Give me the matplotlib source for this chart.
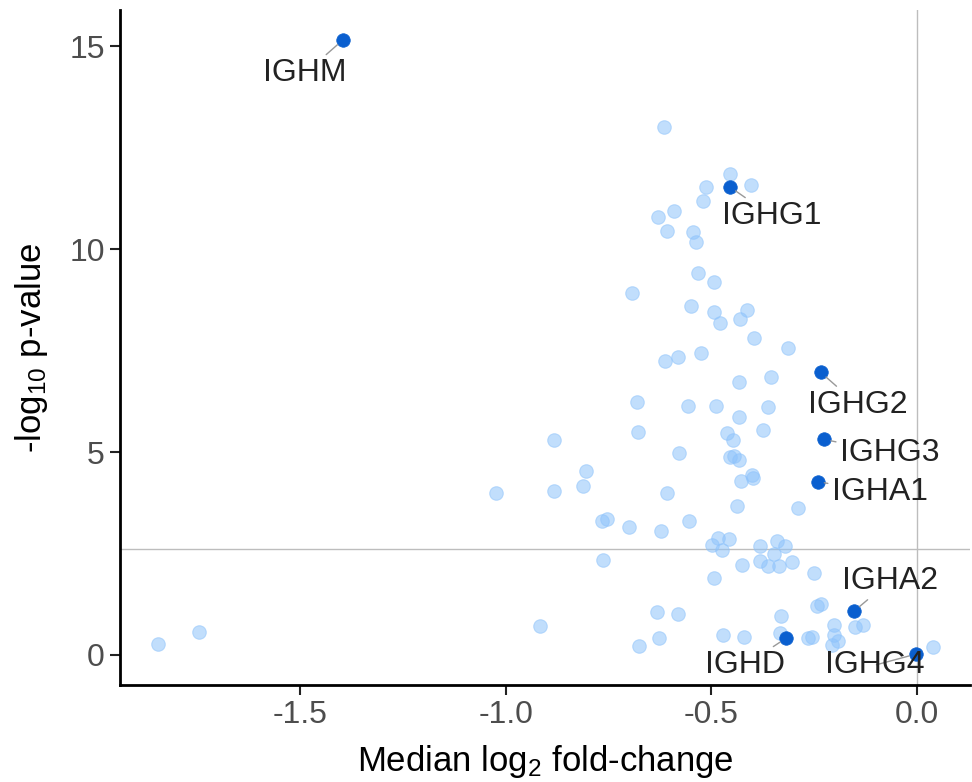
import matplotlib
matplotlib.use("Agg")
import matplotlib.pyplot as plt

plt.rcParams['font.family'] = ['Liberation Sans', 'DejaVu Sans']
plt.rcParams['mathtext.default'] = 'regular'

# background genes: median log2 fold-change and -log10 p-value
bg_x = [-0.616, -0.455, -0.514, -0.405, -0.521, -0.629, -0.591, -0.609, -0.546, -0.538,
        -0.532, -0.494, -0.694, -0.551, -0.493, -0.479, -0.431, -0.413, -0.396, -0.315,
        -0.613, -0.581, -0.526, -0.433, -0.356, -0.682, -0.556, -0.490, -0.363, -0.434,
        -0.679, -0.463, -0.448, -0.375, -0.882, -0.578, -0.455, -0.446, -0.432, -0.805,
        -0.402, -0.400, -0.427, -0.812, -1.023, -0.882, -0.609, -0.437, -0.290, -0.767,
        -0.755, -0.700, -0.623, -0.554, -0.499, -0.483, -0.457, -0.475, -0.382, -0.340,
        -0.320, -0.765, -0.349, -0.382, -0.362, -0.336, -0.303, -0.426, -0.494, -0.251,
        -0.633, -0.581, -0.332, -0.244, -0.234, -0.627, -0.676, -0.473, -0.420, -0.333,
        -0.264, -0.255, -0.202, -0.203, -0.191, -0.207, -0.151, -0.132, -0.917, 0.038,
        -1.746, -1.847]
bg_y = [13.00, 11.85, 11.53, 11.58, 11.19, 10.80, 10.94, 10.45, 10.41, 10.18,
        9.40, 9.20, 8.91, 8.60, 8.46, 8.17, 8.28, 8.50, 7.80, 7.57,
        7.25, 7.33, 7.43, 6.72, 6.84, 6.22, 6.14, 6.14, 6.11, 5.86,
        5.50, 5.48, 5.30, 5.54, 5.30, 4.97, 4.87, 4.89, 4.80, 4.54,
        4.43, 4.37, 4.29, 4.16, 3.98, 4.05, 3.98, 3.67, 3.63, 3.31,
        3.34, 3.16, 3.06, 3.31, 2.72, 2.87, 2.86, 2.59, 2.68, 2.82,
        2.68, 2.35, 2.49, 2.32, 2.20, 2.18, 2.28, 2.22, 1.89, 2.01,
        1.05, 1.00, 0.97, 1.21, 1.25, 0.41, 0.23, 0.48, 0.45, 0.53,
        0.41, 0.45, 0.74, 0.49, 0.35, 0.25, 0.68, 0.75, 0.71, 0.19,
        0.57, 0.26]

# immunoglobulin heavy-chain genes (highlighted)
ig_genes = ['IGHM', 'IGHG1', 'IGHG2', 'IGHG3', 'IGHA1', 'IGHA2', 'IGHD', 'IGHG4']
ig_x = [-1.397, -0.455, -0.234, -0.226, -0.242, -0.153, -0.319, -0.003]
ig_y = [15.15, 11.53, 6.96, 5.31, 4.27, 1.08, 0.41, 0.02]

threshold = 2.6
x_ticks = [-1.5, -1.0, -0.5, 0.0]
y_ticks = [0, 5, 10, 15]

# label placement (text centre, data coordinates)
label_pos = [(-1.489, 14.33), (-0.353, 10.81), (-0.144, 6.16), (-0.066, 4.98),
             (-0.090, 4.01), (-0.066, 1.82), (-0.418, -0.25), (-0.102, -0.25)]

fig = plt.figure(figsize=(9.72, 7.82), dpi=100)
ax = fig.add_axes([120/972, 1-685/782, 850/972, 675/782])

ax.axhline(threshold, color='#bdbdbd', lw=1.0, zorder=1)
ax.axvline(0, color='#bdbdbd', lw=1.0, zorder=1)

ax.scatter(bg_x, bg_y, s=95, color='#8ec3fb', alpha=0.55, edgecolors='#8ec3fb',
           linewidths=0.8, zorder=2)
ax.scatter(ig_x, ig_y, s=95, color='#0a5fcf', edgecolors='#0a5fcf', linewidths=0.5, zorder=3)

for g, px, py, (tx, ty) in zip(ig_genes, ig_x, ig_y, label_pos):
    ax.annotate(g, xy=(px, py), xytext=(tx, ty), ha='center', va='center',
                fontsize=23, color='#222222', zorder=4,
                arrowprops=dict(arrowstyle='-', color='#999999', lw=1.0,
                                shrinkA=1, shrinkB=5))

ax.set_xlim(-1.939, 0.129)
ax.set_ylim(-0.74, 15.89)
ax.set_xticks(x_ticks)
ax.set_xticklabels([f'{v:.1f}' for v in x_ticks])
ax.set_yticks(y_ticks)

for s in ['top', 'right']:
    ax.spines[s].set_visible(False)
for s in ['left', 'bottom']:
    ax.spines[s].set_linewidth(2.0)
    ax.spines[s].set_color('black')

ax.tick_params(axis='both', length=7, width=1.5, color='#222222',
               labelsize=23, labelcolor='#4d4d4d', pad=4)

ax.set_xlabel(r'Median log$_2$ fold-change', fontsize=25, color='black', labelpad=9)
ax.set_ylabel(r'-log$_{10}$ p-value', fontsize=25, color='black', labelpad=14)

fig.savefig('out.png', dpi=100)
